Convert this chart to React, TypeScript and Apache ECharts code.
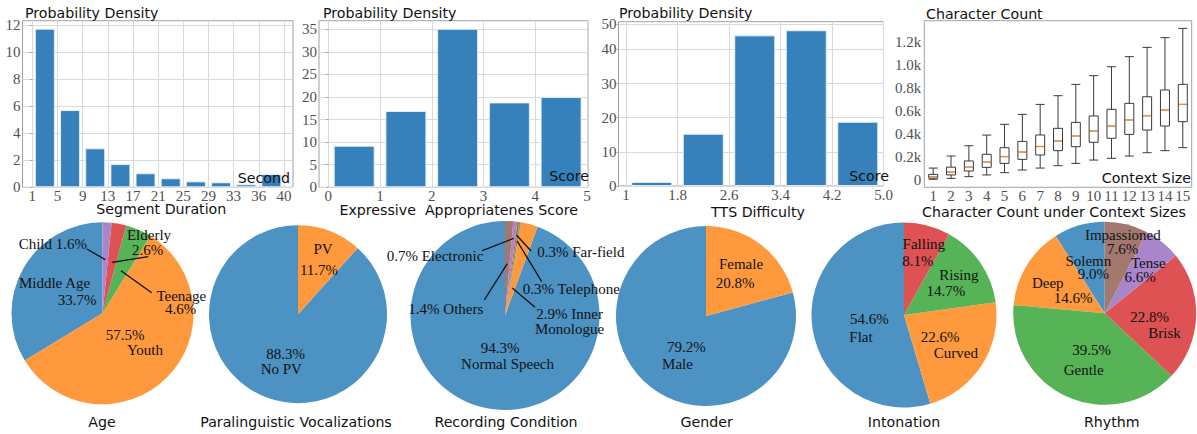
import React, { useEffect, useRef } from 'react';
import * as echarts from 'echarts';

// ---------- data ----------
const SEG_TICKS = ['1', '5', '9', '13', '17', '21', '25', '29', '33', '36', '40'];
const SEG_DENSITY = [11.75, 5.72, 2.89, 1.72, 1.04, 0.67, 0.44, 0.37, 0.22, 0.98];
const SEG_Y_TICKS = [0, 2, 4, 6, 8, 10, 12];

const EXPR_EDGES = [0, 1, 2, 3, 4, 5];
const EXPR_TICKS = ['0', '1', '2', '3', '4', '5'];
const EXPR_DENSITY = [9.2, 16.9, 35.1, 18.8, 20.0];
const EXPR_Y_TICKS = [0, 5, 10, 15, 20, 25, 30, 35];

const TTS_EDGES = [1, 1.8, 2.6, 3.4, 4.2, 5.0];
const TTS_TICKS = ['1', '1.8', '2.6', '3.4', '4.2', '5.0'];
const TTS_DENSITY = [1.2, 15.3, 44.1, 45.6, 18.8];
const TTS_Y_LABELS = ['0', '10', '20', '30', '40', '50'];

const CTX_SIZES = ['1', '2', '3', '4', '5', '6', '7', '8', '9', '10', '11', '12', '13', '14', '15'];
const CTX_MIN = [2, 10, 25, 40, 60, 83, 100, 121, 141, 170, 185, 205, 234, 252, 278];
const CTX_Q1 = [12, 40, 74, 106, 141, 176, 214, 252, 287, 325, 360, 394, 432, 467, 505];
const CTX_MED = [25, 65, 108, 152, 200, 240, 288, 336, 380, 424, 467, 520, 557, 607, 656];
const CTX_Q3 = [45, 108, 162, 220, 278, 333, 389, 447, 499, 555, 613, 665, 723, 782, 831];
const CTX_MAX = [100, 205, 295, 388, 482, 569, 656, 732, 831, 907, 985, 1073, 1154, 1239, 1320];
const CTX_Y_TICKS = [0, 200, 400, 600, 800, 1000, 1200];

const AGE_NAMES = ['Middle Age', 'Youth', 'Teenage', 'Elderly', 'Child'];
const AGE_PCT = [33.7, 57.5, 4.6, 2.6, 1.6];
const PV_NAMES = ['No PV', 'PV'];
const PV_PCT = [88.3, 11.7];
const REC_NAMES = ['Normal Speech', 'Inner Monologue', 'Telephone', 'Far-field', 'Electronic', 'Others'];
const REC_PCT = [94.3, 2.9, 0.3, 0.3, 0.7, 1.4];
const GENDER_NAMES = ['Male', 'Female'];
const GENDER_PCT = [79.2, 20.8];
const INTON_NAMES = ['Flat', 'Curved', 'Rising', 'Falling'];
const INTON_PCT = [54.6, 22.6, 14.7, 8.1];
const RHYTHM_NAMES = ['Solemn', 'Deep', 'Gentle', 'Brisk', 'Tense', 'Impassioned'];
const RHYTHM_PCT = [9.0, 14.6, 39.5, 22.8, 6.6, 7.6];

// ---------- styles ----------
const PIE_COLORS = ['#4c92c3', '#ff993e', '#56b356', '#de5253', '#a985ca', '#a3786f'];
const BAR_COLOR = '#3681bc';
const GRID_LINE = '#d9d9d9';
const FRAME = '#a0a0a0';
const SERIF = 'Liberation Serif';
const HAND = 'DejaVu Sans';
const AXIS_LABEL = { fontFamily: SERIF, fontSize: 15, color: '#505050' };

type Lbl = { i: number; fmt: string; x: number; y: number; line?: [number, number, number] };
type PieSpec = { title: string; names: string[]; pct: number[]; cx: number; cy: number; r: number; tx: number; labels: Lbl[] };

const PIES: PieSpec[] = [
  {
    title: 'Age', names: AGE_NAMES, pct: AGE_PCT, cx: 102.5, cy: 313.3, r: 91, tx: 102,
    labels: [
      { i: 0, fmt: 'name', x: 54.5, y: 282.7 }, { i: 0, fmt: 'pct', x: 77, y: 300 },
      { i: 1, fmt: 'pct', x: 125, y: 335 }, { i: 1, fmt: 'name', x: 145, y: 350 },
      { i: 2, fmt: 'name', x: 181.3, y: 296 }, { i: 2, fmt: 'pct', x: 180.5, y: 309.3, line: [151.7, 292.7, 0.51] },
      { i: 3, fmt: 'name', x: 149, y: 235 }, { i: 3, fmt: 'pct', x: 147.5, y: 250, line: [148.3, 256.7, 0.57] },
      { i: 4, fmt: 'namepct', x: 52.8, y: 244, line: [87, 249, 0.59] },
    ],
  },
  {
    title: 'Paralinguistic Vocalizations', names: PV_NAMES, pct: PV_PCT, cx: 298, cy: 314.2, r: 89, tx: 296,
    labels: [
      { i: 1, fmt: 'name', x: 323, y: 249.3 }, { i: 1, fmt: 'pct', x: 319, y: 270 },
      { i: 0, fmt: 'pct', x: 285.5, y: 354 }, { i: 0, fmt: 'name', x: 281.3, y: 369.3 },
    ],
  },
  {
    title: 'Recording Condition', names: REC_NAMES, pct: REC_PCT, cx: 505, cy: 315.5, r: 94.5, tx: 506,
    labels: [
      { i: 0, fmt: 'pct', x: 500, y: 348.3 }, { i: 0, fmt: 'name', x: 507.5, y: 364 },
      { i: 1, fmt: 'pctname2', x: 569.6, y: 321.8, line: [535, 307.3, 0.3] },
      { i: 2, fmt: 'pctname', x: 571.3, y: 289.3, line: [541.7, 281.7, 0.8] },
      { i: 3, fmt: 'pctname', x: 580.8, y: 252.3, line: [531, 251, 0.86] },
      { i: 4, fmt: 'pctname', x: 435, y: 256, line: [482.3, 250.7, 0.82] },
      { i: 5, fmt: 'pctname', x: 445.8, y: 309.3, line: [484.3, 300, 0.55] },
    ],
  },
  {
    title: 'Gender', names: GENDER_NAMES, pct: GENDER_PCT, cx: 706, cy: 316, r: 90, tx: 706.7,
    labels: [
      { i: 1, fmt: 'name', x: 741, y: 264.3 }, { i: 1, fmt: 'pct', x: 735, y: 282.7 },
      { i: 0, fmt: 'pct', x: 686.3, y: 346.7 }, { i: 0, fmt: 'name', x: 677.5, y: 364 },
    ],
  },
  {
    title: 'Intonation', names: INTON_NAMES, pct: INTON_PCT, cx: 904, cy: 315, r: 92.5, tx: 904,
    labels: [
      { i: 3, fmt: 'name', x: 923.8, y: 244 }, { i: 3, fmt: 'pct', x: 917.8, y: 260.7 },
      { i: 2, fmt: 'name', x: 958.8, y: 275 }, { i: 2, fmt: 'pct', x: 945.8, y: 291 },
      { i: 0, fmt: 'pct', x: 869.3, y: 319.3 }, { i: 0, fmt: 'name', x: 861, y: 336.7 },
      { i: 1, fmt: 'pct', x: 940, y: 336.7 }, { i: 1, fmt: 'name', x: 955.8, y: 353.3 },
    ],
  },
  {
    title: 'Rhythm', names: RHYTHM_NAMES, pct: RHYTHM_PCT, cx: 1104.7, cy: 313.3, r: 91.5, tx: 1111.7,
    labels: [
      { i: 5, fmt: 'name', x: 1122.8, y: 235 }, { i: 5, fmt: 'pct', x: 1122.5, y: 249.3 },
      { i: 0, fmt: 'name', x: 1088.3, y: 260.7 }, { i: 0, fmt: 'pct', x: 1093.3, y: 274 },
      { i: 4, fmt: 'name', x: 1148.3, y: 263.3 }, { i: 4, fmt: 'pct', x: 1140, y: 277.3 },
      { i: 1, fmt: 'name', x: 1047.8, y: 283.3 }, { i: 1, fmt: 'pct', x: 1073, y: 297.7 },
      { i: 3, fmt: 'pct', x: 1149.7, y: 316.7 }, { i: 3, fmt: 'name', x: 1164.5, y: 333.3 },
      { i: 2, fmt: 'pct', x: 1091.7, y: 350 }, { i: 2, fmt: 'name', x: 1083.7, y: 370 },
    ],
  },
];

const fmtPct = (v: number) => v.toFixed(1) + '%';
function labelText(kind: string, name: string, v: number): string {
  if (kind === 'name') return name;
  if (kind === 'pct') return fmtPct(v);
  if (kind === 'namepct') return name + ' ' + fmtPct(v);
  if (kind === 'pctname') return fmtPct(v) + ' ' + name;
  const k = name.indexOf(' ');
  return fmtPct(v) + ' ' + name.slice(0, k) + '\n' + name.slice(k + 1);
}

function midAngle(pct: number[], i: number) {
  const tot = pct.reduce((a, b) => a + b, 0);
  let before = 0;
  for (let k = 0; k < i; k++) before += pct[k];
  return ((90 + ((before + pct[i] / 2) / tot) * 360) * Math.PI) / 180;
}

const mids = (edges: number[]) => edges.slice(0, -1).map((e, i) => (e + edges[i + 1]) / 2);

function nearestIndex(ticks: number[], v: number) {
  let best = 0;
  ticks.forEach((t, k) => { if (Math.abs(t - v) < Math.abs(ticks[best] - v)) best = k; });
  return best;
}

function handText(text: string, x: number, y: number, align: string) {
  return {
    type: 'text', x, y, silent: true, z: 100,
    style: { text, fontFamily: HAND, fontSize: 14.2, fill: '#111', align, verticalAlign: 'middle' },
  };
}

function buildOption() {
  const grids = [
    { left: 22.5, top: 20.7, width: 270.5, height: 166.6 },
    { left: 319, top: 20.7, width: 269, height: 166.6 },
    { left: 618.5, top: 21.7, width: 265, height: 164.3 },
    { left: 924.3, top: 20.7, width: 267.4, height: 166.6 },
  ].map((g) => ({ ...g, show: true, borderColor: FRAME, borderWidth: 1, backgroundColor: 'transparent', containLabel: false, outerBoundsMode: 'none' }));

  const valX = (gridIndex: number, min: number, max: number, ticks: number[], labels: string[]) => ({
    gridIndex, type: 'value', min, max,
    axisLine: { show: false },
    axisTick: { show: false, customValues: ticks },
    axisLabel: {
      ...AXIS_LABEL, margin: 2.5, lineHeight: 12, customValues: ticks, hideOverlap: false, showMinLabel: true, showMaxLabel: true,
      formatter: (v: number) => labels[nearestIndex(ticks, v)],
    },
    splitLine: { show: true, lineStyle: { color: GRID_LINE, width: 1 } },
  });
  const valY = (gridIndex: number, min: number, max: number, ticks: number[], fmt: (v: number) => string, split: boolean, tick: boolean) => ({
    gridIndex, type: 'value', min, max,
    axisLine: { show: false },
    axisTick: { show: tick, length: 2, lineStyle: { color: FRAME }, customValues: ticks },
    axisLabel: { ...AXIS_LABEL, margin: tick ? 2 : 3, customValues: ticks, showMinLabel: true, showMaxLabel: true, hideOverlap: false, formatter: fmt },
    splitLine: { show: split, lineStyle: { color: GRID_LINE, width: 1 } },
  });

  const segIdx = SEG_TICKS.map((_, i) => i);
  // the reference prints its top label "50" just under the frame's top edge
  const ttsYTicks = [0, 10, 20, 30, 40, 47.4];

  const xAxis = [
    valX(0, -0.39, 10.36, segIdx, SEG_TICKS),
    valX(1, -0.18, 5.02, EXPR_EDGES, EXPR_TICKS),
    valX(2, 0.883, 5.0, TTS_EDGES, TTS_TICKS),
    {
      gridIndex: 3, type: 'category', data: CTX_SIZES, boundaryGap: true,
      axisLine: { show: false }, axisTick: { show: false },
      axisLabel: { ...AXIS_LABEL, margin: 2.5, lineHeight: 12, interval: 0 },
      splitLine: { show: false },
    },
  ];
  const yAxis = [
    valY(0, 0, 12.34, SEG_Y_TICKS, (v) => String(Math.round(v)), true, true),
    valY(1, 0, 36.9, EXPR_Y_TICKS, (v) => String(Math.round(v)), true, true),
    valY(2, 0, 48.1, ttsYTicks, (v) => TTS_Y_LABELS[nearestIndex(ttsYTicks, v)], true, true),
    valY(3, -68, 1387, CTX_Y_TICKS, (v) => (v === 0 ? '0' : (v / 1000).toFixed(1) + 'k'), false, false),
  ];

  const barStyle = { color: BAR_COLOR, borderColor: 'rgba(235,242,249,0.9)', borderWidth: 1 };
  const segMids = SEG_DENSITY.map((_, i) => i + 0.5);

  const series: any[] = [
    { type: 'bar', xAxisIndex: 0, yAxisIndex: 0, barWidth: 20, itemStyle: barStyle, silent: true, data: SEG_DENSITY.map((v, i) => [segMids[i], v]) },
    { type: 'bar', xAxisIndex: 1, yAxisIndex: 1, barWidth: 41, itemStyle: barStyle, silent: true, data: EXPR_DENSITY.map((v, i) => [mids(EXPR_EDGES)[i], v]) },
    { type: 'bar', xAxisIndex: 2, yAxisIndex: 2, barWidth: 41, itemStyle: barStyle, silent: true, data: TTS_DENSITY.map((v, i) => [mids(TTS_EDGES)[i], v]) },
    {
      type: 'boxplot', xAxisIndex: 3, yAxisIndex: 3, boxWidth: [9, 9], silent: true,
      itemStyle: { color: '#fff', borderColor: '#3a3a3a', borderWidth: 1 },
      data: CTX_SIZES.map((_, i) => [CTX_MIN[i], CTX_Q1[i], CTX_MED[i], CTX_Q3[i], CTX_MAX[i]]),
    },
    {
      type: 'scatter', xAxisIndex: 3, yAxisIndex: 3, symbol: 'rect', symbolSize: [8, 1.6], silent: true, z: 5,
      itemStyle: { color: '#f7a55c' },
      data: CTX_MED.map((v, i) => [i, v]),
    },
  ];

  PIES.forEach((p) => {
    series.push({
      type: 'pie', center: [p.cx, p.cy], radius: p.r, startAngle: 90, clockwise: false, silent: true,
      label: { show: false }, labelLine: { show: false }, emphasis: { disabled: true },
      itemStyle: { borderWidth: 0 },
      data: p.names.map((n, i) => ({ name: n, value: p.pct[i], itemStyle: { color: PIE_COLORS[i] } })),
    });
  });

  const graphic: any[] = [
    handText('Probability Density', 25, 12.5, 'left'),
    handText('Second', 290, 178.3, 'right'),
    handText('Segment Duration', 161.3, 209, 'center'),
    handText('Probability Density', 323, 12.7, 'left'),
    handText('Score', 589, 176, 'right'),
    handText('Expressive  Appropriatenes Score', 458.7, 209.8, 'center'),
    handText('Probability Density', 619, 13, 'left'),
    handText('Score', 889, 176, 'right'),
    handText('TTS Difficulty', 758, 211.7, 'center'),
    handText('Character Count', 926, 14, 'left'),
    handText('Context Size', 1191, 178.3, 'right'),
    handText('Character Count under Context Sizes', 1054, 212.2, 'center'),
  ];

  PIES.forEach((p) => {
    graphic.push(handText(p.title, p.tx, 421.5, 'center'));
    p.labels.forEach((l) => {
      graphic.push({
        type: 'text', x: l.x, y: l.y, silent: true, z: 100,
        style: {
          text: labelText(l.fmt, p.names[l.i], p.pct[l.i]),
          fontFamily: SERIF, fontSize: 15, fill: '#111', align: 'center', verticalAlign: 'middle', lineHeight: 15,
        },
      });
      if (l.line) {
        const a = midAngle(p.pct, l.i);
        const rr = l.line[2] * p.r;
        graphic.push({
          type: 'line', silent: true, z: 100,
          shape: { x1: l.line[0], y1: l.line[1], x2: p.cx + rr * Math.cos(a), y2: p.cy - rr * Math.sin(a) },
          style: { stroke: '#111', lineWidth: 1.3 },
        });
      }
    });
  });

  return { animation: false, grid: grids, xAxis, yAxis, series, graphic };
}

export default function App() {
  const ref = useRef<HTMLDivElement>(null);
  useEffect(() => {
    document.body.style.margin = '0';
    const chart = echarts.init(ref.current!, null, { renderer: 'svg' });
    chart.setOption(buildOption() as any);
    return () => chart.dispose();
  }, []);
  return <div ref={ref} style={{ width: 1197, height: 434, background: '#fff' }} />;
}
